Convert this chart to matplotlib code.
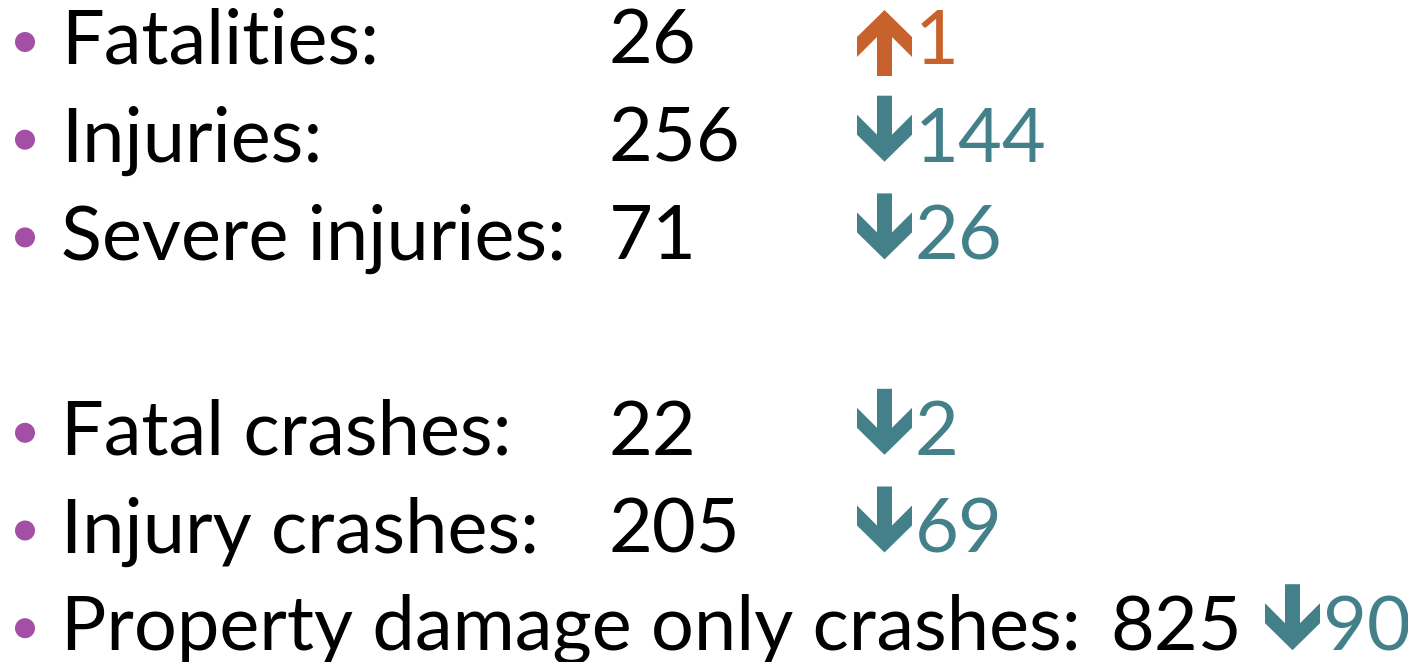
import matplotlib
matplotlib.use("Agg")
import matplotlib.pyplot as plt
from matplotlib.patches import Polygon, Circle

labels = ["Fatalities:", "Injuries:", "Severe injuries:", "Fatal crashes:",
          "Injury crashes:", "Property damage only crashes:"]
values = [26, 256, 71, 22, 205, 825]
changes = [1, -144, -26, -2, -69, -90]
rows = [0, 1, 2, 4, 5, 6]  # line index (blank line between groups)

W, H = 1408, 662
fig = plt.figure(figsize=(W / 100, H / 100), dpi=100)
ax = fig.add_axes([0, 0, 1, 1])
ax.set_xlim(0, W)
ax.set_ylim(H, 0)
ax.axis("off")

FONT = "Lato"
FS = 54.5
UP_C = "#C8622C"
DOWN_C = "#44808A"
BULLET_C = "#A24FA5"

base0, step = 64, 97.7
label_x = 61
value_x = [609, 609, 609, 609, 609, 1110]
arrow_x = [857, 857, 857, 857, 857, 1265]

def arrow(x0, yb, up, color):
    h = 66.0
    if up:
        top = yb - 54
        pts = [(27.5, 0), (55, 27), (55, 47), (35, 27), (35, h), (20, h),
               (20, 27), (0, 47), (0, 27)]
    else:
        top = yb - h
        pts = [(27.5, h), (55, h - 27), (55, h - 47), (35, h - 27), (35, 0),
               (20, 0), (20, h - 27), (0, h - 47), (0, h - 27)]
    pts = [(x0 + px, top + py) for px, py in pts]
    ax.add_patch(Polygon(pts, closed=True, color=color, lw=0))

for i, (lab, v, c, r) in enumerate(zip(labels, values, changes, rows)):
    yb = base0 + step * r
    ax.add_patch(Circle((25, yb - 22), 10, color=BULLET_C, lw=0))
    ax.text(label_x, yb, lab, fontsize=FS, family=FONT, va="baseline", ha="left", color="black")
    ax.text(value_x[i], yb, str(v), fontsize=FS, family=FONT, va="baseline", ha="left", color="black")
    col = UP_C if c > 0 else DOWN_C
    arrow(arrow_x[i], yb, c > 0, col)
    ax.text(arrow_x[i] + 58, yb, str(abs(c)), fontsize=FS, family=FONT, va="baseline", ha="left", color=col)

fig.savefig("out.png", dpi=100)
